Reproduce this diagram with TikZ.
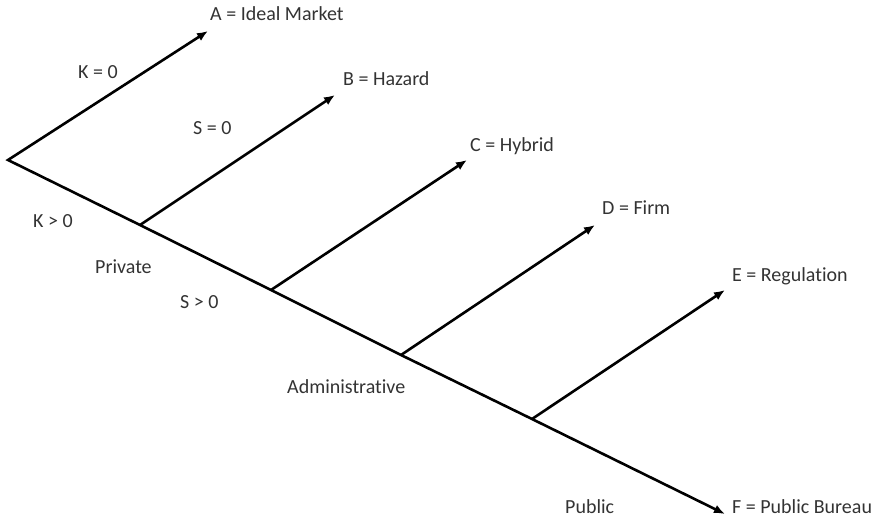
\documentclass[tikz,border=0pt]{standalone}
\usepackage{fontspec}
\setmainfont[Ligatures=NoCommon]{Carlito}
\usetikzlibrary{arrows.meta}
\begin{document}
\begin{tikzpicture}[x=1pt, y=-1pt,
    branch/.style={line width=2.6pt, -{Latex[length=11pt,width=9pt]}},
    lbl/.style={font=\fontsize{20}{24}\selectfont, text=black!80, inner sep=0pt, anchor=base west}]
  \useasboundingbox (0,0) rectangle (879,519);

  % Tree points
  \coordinate (root) at (8,160);
  \coordinate (p1) at (140,225);
  \coordinate (p2) at (271,290);
  \coordinate (p3) at (401,355);
  \coordinate (p4) at (532,419);

  % Arrow tips
  \coordinate (tA) at (208,31);
  \coordinate (tB) at (335,95);
  \coordinate (tC) at (467,160);
  \coordinate (tD) at (595,225);
  \coordinate (tE) at (725,290);
  \coordinate (tF) at (725,514);

  % Main line with first branch
  \draw[branch, {Latex[length=11pt,width=9pt]}-{Latex[length=11pt,width=9pt]}]
    (tA) -- (root) -- (p1) -- (p2) -- (p3) -- (p4) -- (tF);

  % Side branches
  \draw[branch] (p1) -- (tB);
  \draw[branch] (p2) -- (tC);
  \draw[branch] (p3) -- (tD);
  \draw[branch] (p4) -- (tE);

  % Outcome labels
  \node[lbl] (labA) at (210,21) {A = Ideal Market};
  \node[lbl] (labB) at (343,86) {B = Hazard};
  \node[lbl] (labC) at (470,151) {C = Hybrid};
  \node[lbl] (labD) at (602,214) {D = Firm};
  \node[lbl] (labE) at (732,281) {E = Regulation};
  \node[lbl] (labF) at (732,513) {F = Public Bureau};

  % Condition labels
  \node[lbl] (kzero) at (78,78) {K = 0};
  \node[lbl] (kpos) at (33,227) {K > 0};
  \node[lbl] (szero) at (193,134) {S = 0};
  \node[lbl] (spos) at (180,308) {S > 0};

  % Governance labels
  \node[lbl] (priv) at (95,273) {Private};
  \node[lbl] (admin) at (287,393) {Administrative};
  \node[lbl] (pub) at (565,513) {Public};
\end{tikzpicture}
\end{document}
